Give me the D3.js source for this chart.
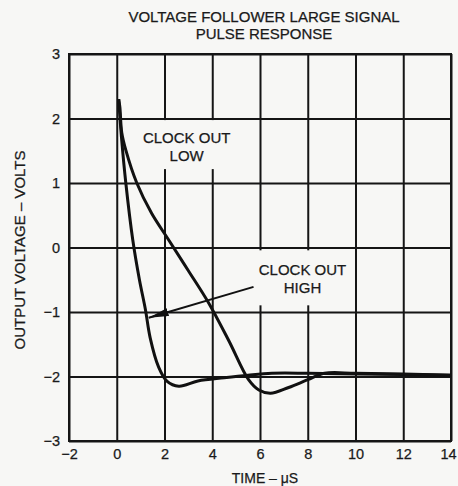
<!DOCTYPE html>
<html>
<head>
<meta charset="utf-8">
<script src="https://cdn.jsdelivr.net/npm/d3@7"></script>
<style>
  body { margin: 0; background: #f7f7f5; }
  text { font-family: "Liberation Sans", Arial, sans-serif; fill: #1a1a1a; stroke: #1a1a1a; stroke-width: 0.25; }
</style>
</head>
<body>
<div id="chart"></div>
<script>
// Values
const xTicks = [-2, 0, 2, 4, 6, 8, 10, 12, 14];
const yTicks = [-3, -2, -1, 0, 1, 2, 3];

const highTime = [0.08, 0.2, 0.38, 0.67, 0.95, 1.2, 1.4, 1.75, 2.1, 2.6, 3.4, 4.5, 5.5, 6.5, 8, 10, 12, 14];
const highVolts = [2.3, 1.7, 1.0, 0.12, -0.5, -0.96, -1.4, -1.85, -2.07, -2.15, -2.07, -2.02, -1.98, -1.95, -1.95, -1.96, -1.97, -1.98];

const lowTime = [0.08, 0.13, 0.21, 0.38, 0.84, 1.46, 2.17, 3.0, 3.85, 4.7, 5.52, 5.95, 6.44, 7.2, 8.0, 8.7, 10, 12, 14];
const lowVolts = [2.3, 2.18, 1.78, 1.51, 1.0, 0.53, 0.12, -0.36, -0.86, -1.45, -2.05, -2.21, -2.26, -2.17, -2.05, -1.95, -1.95, -1.96, -1.98];

// arrow from the "HIGH" label to its curve
const arrowFrom = [5.73, -0.61];
const arrowTo = [1.34, -1.09];

const width = 458, height = 486;
const margin = { top: 54, right: 7, bottom: 45, left: 69 };
const w = width - margin.left - margin.right;
const h = height - margin.top - margin.bottom;

const svg = d3.select("#chart")
    .append("svg")
    .attr("width", width)
    .attr("height", height);

svg.append("defs").append("marker")
    .attr("id", "head")
    .attr("viewBox", "0 0 20 8")
    .attr("refX", 20).attr("refY", 4)
    .attr("markerWidth", 20).attr("markerHeight", 8)
    .attr("markerUnits", "userSpaceOnUse")
    .attr("orient", "auto")
    .append("path")
    .attr("d", "M0,0 L20,4 L0,8 Z")
    .attr("fill", "#111");

const g = svg.append("g")
    .attr("transform", `translate(${margin.left}, ${margin.top})`);

const x = d3.scaleLinear().domain([-2, 14]).range([0, w]);
const y = d3.scaleLinear().domain([-3, 3]).range([h, 0]);

const fmt = d => d < 0 ? "\u2212" + Math.abs(d) : d;

// Grid
g.append("g")
    .attr("transform", `translate(0, ${h})`)
    .call(d3.axisBottom(x).tickValues(xTicks).tickSize(-h).tickPadding(8).tickFormat(fmt))
    .call(a => a.select(".domain").remove())
    .call(a => a.selectAll("line").attr("stroke", "#151515").attr("stroke-width", 2))
    .call(a => a.selectAll("text").attr("font-size", 14.5).attr("fill", "#1a1a1a"))
    .call(a => a.selectAll("text").filter(d => d === 14).attr("dx", -3));

g.append("g")
    .call(d3.axisLeft(y).tickValues(yTicks).tickSize(-w).tickPadding(9).tickFormat(fmt))
    .call(a => a.select(".domain").remove())
    .call(a => a.selectAll("line").attr("stroke", "#151515").attr("stroke-width", 2))
    .call(a => a.selectAll("text").attr("font-size", 14.5).attr("fill", "#1a1a1a"));

g.append("rect")
    .attr("width", w).attr("height", h)
    .attr("fill", "none")
    .attr("stroke", "#151515")
    .attr("stroke-width", 2);

// Curve labels on boxes (they hide the grid behind them)
function label(tx, ty, lines, padTop, padBottom) {
    const lg = g.append("g");
    const box = lg.append("rect").attr("fill", "#f7f7f5");
    const t = lg.append("text")
        .attr("text-anchor", "middle")
        .attr("font-size", 15);
    lines.forEach((s, i) => {
        t.append("tspan")
            .attr("x", x(tx))
            .attr("y", y(ty) + i * 18)
            .attr("dy", "0.35em")
            .text(s);
    });
    const b = t.node().getBBox();
    box.attr("x", b.x - 4).attr("y", b.y - padTop)
        .attr("width", b.width + 8).attr("height", b.height + padTop + padBottom);
}

label(2.93, 1.70, ["CLOCK OUT", "LOW"], 9, 5);
label(7.78, -0.35, ["CLOCK OUT", "HIGH"], 11, 9);

// Curves
const line = d3.line()
    .x(d => x(d[0]))
    .y(d => y(d[1]))
    .curve(d3.curveCatmullRom.alpha(0.5));

const series = [
    d3.zip(highTime, highVolts),
    d3.zip(lowTime, lowVolts)
];

g.selectAll(".curve")
    .data(series)
    .enter()
    .append("path")
    .attr("class", "curve")
    .attr("d", line)
    .attr("fill", "none")
    .attr("stroke", "#111")
    .attr("stroke-width", 3)
    .attr("stroke-linejoin", "round");

g.append("line")
    .attr("x1", x(arrowFrom[0])).attr("y1", y(arrowFrom[1]))
    .attr("x2", x(arrowTo[0])).attr("y2", y(arrowTo[1]))
    .attr("stroke", "#111")
    .attr("stroke-width", 2)
    .attr("marker-end", "url(#head)");

// Titles
svg.append("text")
    .attr("x", 264).attr("y", 17).attr("dy", "0.35em")
    .attr("text-anchor", "middle").attr("font-size", 15)
    .text("VOLTAGE FOLLOWER LARGE SIGNAL");
svg.append("text")
    .attr("x", 264).attr("y", 34).attr("dy", "0.35em")
    .attr("text-anchor", "middle").attr("font-size", 15)
    .text("PULSE RESPONSE");

svg.append("text")
    .attr("x", 265).attr("y", 478).attr("dy", "0.35em")
    .attr("text-anchor", "middle").attr("font-size", 14)
    .text("TIME \u2013 \u03bcS");

svg.append("text")
    .attr("transform", "translate(20, 250) rotate(-90)")
    .attr("dy", "0.35em")
    .attr("text-anchor", "middle").attr("font-size", 15)
    .text("OUTPUT VOLTAGE \u2013 VOLTS");
</script>
</body>
</html>
